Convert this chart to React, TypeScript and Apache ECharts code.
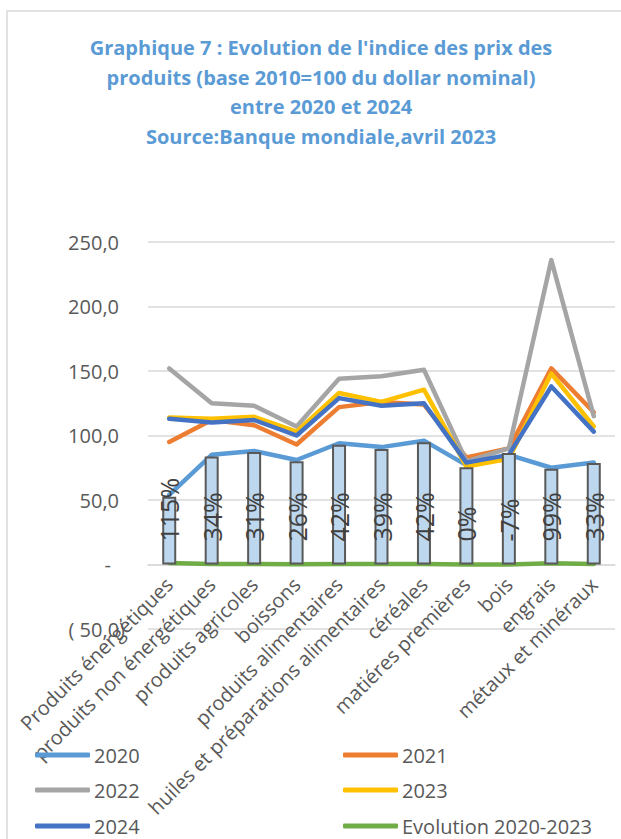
import React, { useEffect, useRef } from "react";
import * as echarts from "echarts";

const categories = [
  "Produits énergétiques",
  "produits non énergétiques",
  "produits agricoles",
  "boissons",
  "produits alimentaires",
  "huiles et préparations alimentaires",
  "céréales",
  "matiéres premières",
  "bois",
  "engrais",
  "métaux et minéraux",
];

const y2020 = [54, 85, 88, 81, 94, 91, 96, 77, 85, 75, 79];
const y2021 = [95, 112, 108, 93, 122, 126, 124, 83, 90, 152, 118];
const y2022 = [152, 125, 123, 107, 144, 146, 151, 80, 90, 236, 115];
const y2023 = [114, 113, 114.5, 103, 133, 126, 135.5, 76, 82, 148, 107];
const y2024 = [113, 110, 112, 100, 129, 123, 125, 79, 85, 138, 103];
const evolution = [1.15, 0.34, 0.31, 0.26, 0.42, 0.39, 0.42, 0.0, -0.07, 0.99, 0.33];
const labelBoxes = [52.6, 83.8, 87.2, 80, 92.9, 89.5, 94.7, 75.3, 86.4, 74.3, 78.7];

const yTicks = { min: -50, max: 250, interval: 50 };

const FONT = "'Open Sans', 'Noto Sans', sans-serif";
const GREY_TEXT = "#595959";

const seriesDefs = [
  { name: "2020", data: y2020, color: "#5B9BD5" },
  { name: "2021", data: y2021, color: "#ED7D31" },
  { name: "2022", data: y2022, color: "#A5A5A5" },
  { name: "2023", data: y2023, color: "#FFC000" },
  { name: "2024", data: y2024, color: "#4472C4" },
  { name: "Evolution 2020-2023", data: evolution, color: "#70AD47" },
];

const legendPos = [
  { left: 35, top: 755 },
  { left: 343, top: 755 },
  { left: 35, top: 790 },
  { left: 343, top: 790 },
  { left: 35, top: 826 },
  { left: 343, top: 826 },
];

function fmtY(v: number): string {
  if (v === 0) return "{z|-}";
  const s = Math.abs(v).toFixed(1).replace(".", ",");
  if (v < 0) return "{n|( " + s + ")}";
  return "{p|" + s + "}";
}

export default function App() {
  const ref = useRef<HTMLDivElement>(null);
  useEffect(() => {
    if (!ref.current) return;
    const chart = echarts.init(ref.current, undefined, { renderer: "svg" });
    const labelText = { fontSize: 20, color: GREY_TEXT, fontFamily: FONT };
    const option: any = {
      animation: false,
      backgroundColor: "#ffffff",
      title: {
        text:
          "Graphique 7 : Evolution de l'indice des prix des\nproduits (base 2010=100 du dollar nominal)\nentre 2020 et 2024\nSource:Banque mondiale,avril 2023",
        left: 316,
        top: 28,
        textAlign: "center",
        textStyle: {
          color: "#5B9BD5",
          fontWeight: "bold",
          fontSize: 20,
          lineHeight: 29.5,
          fontFamily: FONT,
        },
      },
      graphic: [
        {
          type: "rect",
          shape: { x: 7, y: 11, width: 700, height: 900 },
          style: { fill: "none", stroke: "#D9D9D9", lineWidth: 1.5 },
          silent: true,
        },
      ],
      legend: seriesDefs.map((s, i) => ({
        data: [s.name],
        left: legendPos[i].left,
        top: legendPos[i].top - 10,
        padding: 0,
        icon: "roundRect",
        itemWidth: 55,
        itemHeight: 5,
        itemGap: 4,
        textStyle: { ...labelText, lineHeight: 20, padding: [0, 0, 0, -1] },
        selectedMode: false,
      })),
      grid: {
        left: 148,
        right: 6,
        top: 242,
        bottom: 210,
        containLabel: false,
        outerBoundsMode: "none",
      },
      xAxis: {
        type: "category",
        data: categories,
        boundaryGap: true,
        axisLine: { onZero: true, lineStyle: { color: "#D9D9D9", width: 1.5 } },
        axisTick: { show: false },
        axisLabel: { ...labelText, rotate: 45, interval: 0, margin: -48 },
      },
      yAxis: {
        type: "value",
        min: yTicks.min,
        max: yTicks.max,
        interval: yTicks.interval,
        axisLine: { show: false },
        axisTick: { show: false },
        splitLine: { lineStyle: { color: "#D9D9D9", width: 1.5 } },
        axisLabel: {
          ...labelText,
          margin: 23,
          formatter: fmtY,
          rich: {
            p: { ...labelText, padding: [0, 6, 0, 0] },
            z: { ...labelText, padding: [0, 14, 0, 0] },
            n: { ...labelText },
          },
        },
      },
      series: [
        ...seriesDefs.map((s) => ({
          name: s.name,
          type: "line",
          data: s.data,
          symbol: "none",
          color: s.color,
          lineStyle: { color: s.color, width: 4.5, cap: "round", join: "round" },
          z: 2,
        })),
        {
          name: "labels",
          type: "bar",
          data: labelBoxes,
          barWidth: 14,
          z: 5,
          itemStyle: { color: "#BDD7EE", borderColor: "#595959", borderWidth: 2 },
          label: {
            show: true,
            position: "insideBottom",
            distance: 23,
            rotate: 90,
            align: "left",
            verticalAlign: "middle",
            fontSize: 25,
            color: "#404040",
            fontFamily: FONT,
            formatter: (p: any) => Math.round(evolution[p.dataIndex] * 100) + "%",
          },
        },
      ],
    };
    chart.setOption(option);
    return () => chart.dispose();
  }, []);
  return (
    <div
      ref={ref}
      style={{ position: "absolute", left: 0, top: 0, width: 621, height: 839 }}
    />
  );
}
